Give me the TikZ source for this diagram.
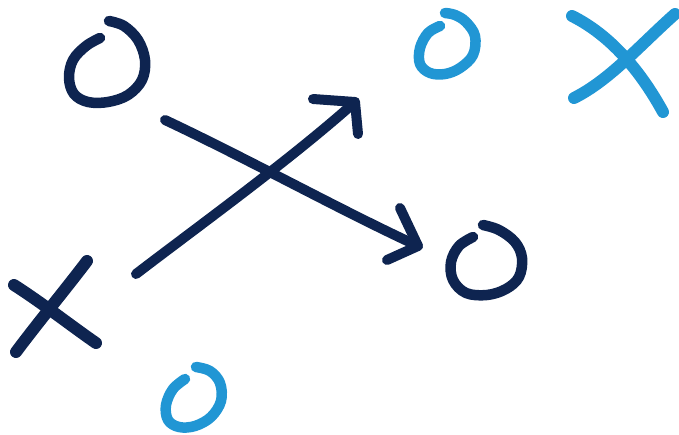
\documentclass[tikz,border=0pt]{standalone}
\definecolor{navy}{HTML}{0E2450}
\definecolor{skyb}{HTML}{2196D4}
\begin{document}
\begin{tikzpicture}[x=1pt,y=-1pt,
  chalk/.style={line cap=round,line join=round},
  ostroke/.style={chalk,line width=10.5pt},
  xstroke/.style={chalk,line width=12pt},
  astroke/.style={chalk,line width=10pt}]
\useasboundingbox (0,0) rectangle (679,435);
% O top-left (navy)
\draw[ostroke,navy] plot[smooth,tension=0.6] coordinates{(100,38) (86,46) (73,60) (69,78) (74,94) (88,102) (108,102) (128,95) (142,80) (145,60) (138,40) (124,26) (109,21)};
% O top (blue)
\draw[ostroke,skyb] plot[smooth,tension=0.6] coordinates{(440,26) (428,33) (420,48) (420,64) (430,73) (445,74) (460,68) (473,55) (475,36) (466,22) (455,15) (445,13)};
% O right (navy)
\draw[ostroke,navy] plot[smooth,tension=0.6] coordinates{(473,237) (459,246) (451,262) (453,280) (466,293) (487,295) (506,289) (519,277) (522,258) (515,242) (499,230) (483,225)};
% O bottom (blue)
\draw[ostroke,skyb] plot[smooth,tension=0.6] coordinates{(185,379) (173,389) (166,405) (168,420) (179,427) (195,426) (211,417) (221,401) (220,383) (210,371) (196,367)};
% X top-right (blue)
\draw[xstroke,skyb] (572,16) .. controls (610,35) and (640,70) .. (663,112);
\draw[xstroke,skyb] (574,98) .. controls (610,80) and (640,45) .. (675,14);
% X left (navy)
\draw[xstroke,navy] (14,285) .. controls (45,305) and (70,325) .. (96,343);
\draw[xstroke,navy] (16,352) .. controls (40,320) and (65,290) .. (87,261);
% arrow up-right
\coordinate (a1s) at (136,274);
\coordinate (a1t) at (355,102);
\draw[astroke,navy] (a1s) .. controls (200,225) and (290,160) .. (a1t);
\draw[astroke,navy] (313,99) -- (a1t) -- (358,134);
% arrow down-right
\coordinate (a2s) at (165,120);
\coordinate (a2t) at (418,246);
\draw[astroke,navy] (a2s) .. controls (250,160) and (340,210) .. (a2t);
\draw[astroke,navy] (400,208) -- (a2t) -- (387,260);
\end{tikzpicture}
\end{document}
